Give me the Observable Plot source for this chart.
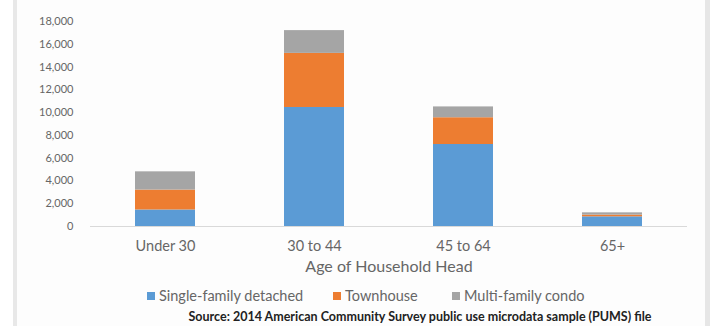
<!DOCTYPE html>
<html>
<head>
<meta charset="utf-8">
<script src="https://cdn.jsdelivr.net/npm/d3@7"></script>
<script src="https://cdn.jsdelivr.net/npm/@observablehq/plot@0.6"></script>
<style>
  html, body { margin: 0; padding: 0; background: #ffffff; }
  #frame {
    position: relative;
    width: 710px; height: 326px; overflow: hidden;
    background: #ffffff;
    font-family: Lato, "Open Sans", sans-serif;
  }
  #panel {
    position: absolute; left: 13px; top: 0; width: 688px; height: 326px;
    background: #fdfdfd;
    border-left: 4px solid #e8e8e8;
    border-right: 5px solid #e6e6e6;
  }
  #chart { position: absolute; left: 0; top: 0; }
  #legend {
    position: absolute; top: 287px; left: 0; width: 710px; height: 18px;
    font-size: 14.5px; color: #666;
  }
  .item { position: absolute; top: 0; white-space: nowrap; line-height: 18px; }
  .swatch { display: inline-block; width: 8px; height: 8px; margin-right: 4px; vertical-align: 1px; }
  #source {
    position: absolute; top: 310px; left: 185px; width: 470px; text-align: center;
    font-size: 12.5px; line-height: 14px; font-weight: bold; color: #222; white-space: nowrap;
  }
</style>
</head>
<body>
<div id="frame">
  <div id="panel"></div>
  <div id="chart"></div>
  <div id="legend"></div>
  <div id="source">Source: 2014 American Community Survey public use microdata sample (PUMS) file</div>
</div>
<script>
// Housing type by age of household head (counts)
const categories = ["Under 30", "30 to 44", "45 to 64", "65+"];
const seriesNames = ["Single-family detached", "Townhouse", "Multi-family condo"];
const singleFamily = [1450, 10450, 7200, 850];
const townhouse = [1750, 4750, 2350, 150];
const condo = [1600, 2000, 950, 200];
const yTicks = [0, 2000, 4000, 6000, 8000, 10000, 12000, 14000, 16000, 18000];
const xTitle = "Age of Household Head";
const colors = ["#5b9bd5", "#ed7d31", "#a5a5a5"];

// long table: one row per (category, series); input order sets stacking bottom-up
const seriesValues = [singleFamily, townhouse, condo];
const rows = [];
seriesNames.forEach((name, s) => {
  categories.forEach((cat, i) => rows.push({ category: cat, type: name, value: seriesValues[s][i] }));
});

const chart = Plot.plot({
  width: 710,
  height: 282,
  marginLeft: 90,
  marginRight: 23,
  marginTop: 21,
  marginBottom: 56,
  style: { fontFamily: "Lato, 'Open Sans', sans-serif", background: "transparent", color: "#666" },
  x: { domain: categories, paddingInner: 0.6, paddingOuter: 0.3, label: null },
  y: { domain: [0, 18000], label: null },
  color: { domain: seriesNames, range: colors },
  marks: [
    Plot.barY(rows, { x: "category", y: "value", fill: "type" }),
    Plot.ruleY([0], { stroke: "#d9d9d9", strokeWidth: 1 }),
    Plot.axisY({ ticks: yTicks, tickSize: 0, tickPadding: 17, tickFormat: d3.format(","), fontSize: 11, label: null, fill: "#666" }),
    Plot.axisX({ tickSize: 0, tickPadding: 14, fontSize: 14.5, label: null, fill: "#666" }),
    Plot.text([xTitle], { frameAnchor: "bottom", dy: 45, fontSize: 16, fill: "#666" })
  ]
});
document.getElementById("chart").append(chart);

// legend below the plot
const legendX = [147, 333, 452];
const legend = document.getElementById("legend");
seriesNames.forEach((name, i) => {
  const item = document.createElement("div");
  item.className = "item";
  item.style.left = legendX[i] + "px";
  const sw = document.createElement("span");
  sw.className = "swatch";
  sw.style.background = colors[i];
  item.append(sw, document.createTextNode(name));
  legend.append(item);
});
</script>
</body>
</html>
